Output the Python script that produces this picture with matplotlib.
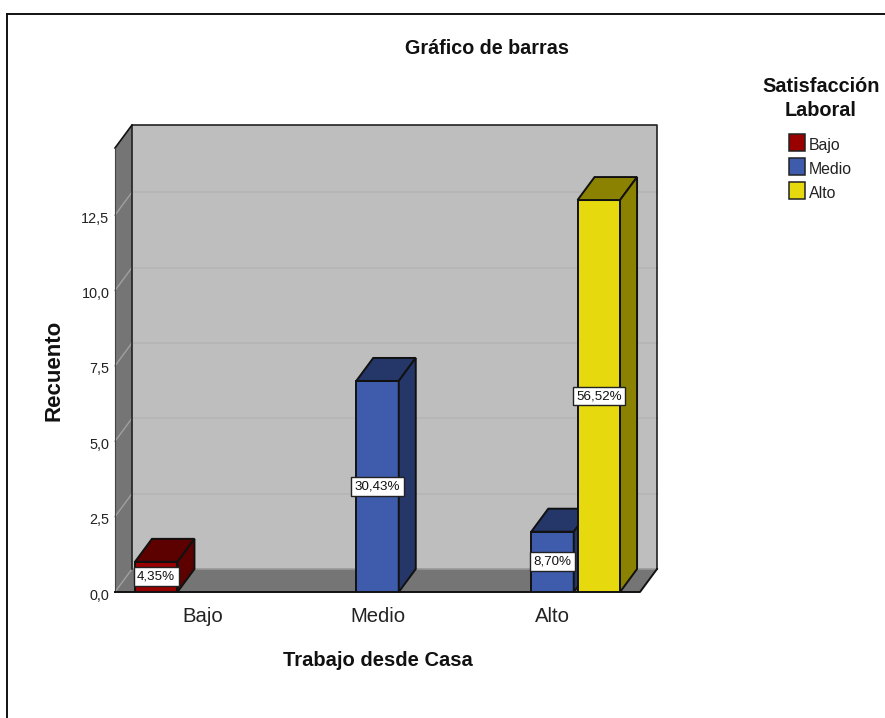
import numpy as np
import matplotlib
matplotlib.use("Agg")
import matplotlib.pyplot as plt
from matplotlib.patches import Polygon, Rectangle
from matplotlib.transforms import ScaledTranslation

plt.rcParams['font.family'] = ['Liberation Sans', 'DejaVu Sans']

# data
categories = ['Bajo', 'Medio', 'Alto']
levels = ['Bajo', 'Medio', 'Alto']
bajoCounts = [1, 0, 0]
medioCounts = [0, 7, 2]
altoCounts = [0, 0, 13]
bajoLabels = ['4,35%', '', '']
medioLabels = ['', '30,43%', '8,70%']
altoLabels = ['', '', '56,52%']
yTicks = [0, 2.5, 5, 7.5, 10, 12.5]
yTickLabels = ['0,0', '2,5', '5,0', '7,5', '10,0', '12,5']

frontColors = ['#990000', '#3E5CAB', '#E6D90E']
darkColors = ['#5C0000', '#253769', '#8A8200']

W, H = 885, 718
# front plane of the 3d box, in pixels
left, right, bottom, top = 115, 640, 592, 148
yMax = (bottom - top) / 30.15
xPerPx = 3.0 / (right - left)
yPerPx = yMax / (bottom - top)
depthX = 17 * xPerPx
depthY = 23 * yPerPx
wallGrey = '#BEBEBE'
floorGrey = '#757575'
gridGrey = '#B5B5B5'

def figX(px):
    return px / W

def figY(py):
    return 1 - py / H

def addPoly(ax, pts, face, edge='none', lw=0, z=1):
    ax.add_patch(Polygon(pts, closed=True, facecolor=face, edgecolor=edge, linewidth=lw, zorder=z, clip_on=False))

def drawBar(ax, x, width, value, color, dark, z):
    ax.bar(x, value, width=width, color=color, edgecolor='#111111', linewidth=1.4, zorder=z)
    x0, x1 = x - width / 2, x + width / 2
    addPoly(ax, [(x0, value), (x1, value), (x1 + depthX, value + depthY), (x0 + depthX, value + depthY)], dark, '#111111', 1.4, z)
    addPoly(ax, [(x1, 0), (x1 + depthX, depthY), (x1 + depthX, value + depthY), (x1, value)], dark, '#111111', 1.4, z)

fig = plt.figure(figsize=(W / 100, H / 100), dpi=100)
ax = fig.add_axes([figX(left), figY(bottom), (right - left) / W, (bottom - top) / H])
ax.set_xlim(-0.5, 2.5)
ax.set_ylim(0, yMax)
for s in ax.spines.values():
    s.set_visible(False)
ax.patch.set_visible(False)

# walls and floor
xa, xb = -0.5, 2.5
addPoly(ax, [(xa + depthX, depthY), (xb + depthX, depthY), (xb + depthX, yMax + depthY), (xa + depthX, yMax + depthY)], wallGrey, 'none', 0, 1)
addPoly(ax, [(xa, 0), (xb, 0), (xb + depthX, depthY), (xa + depthX, depthY)], floorGrey, 'none', 0, 1.1)
addPoly(ax, [(xa, 0), (xa + depthX, depthY), (xa + depthX, yMax + depthY), (xa, yMax)], floorGrey, 'none', 0, 1.1)

# gridlines on the back and side wall
for t in yTicks:
    ax.plot([xa, xa + depthX], [t, t + depthY], color='#A0A0A0', lw=1.0, zorder=1.2, clip_on=False)
    ax.plot([xa + depthX, xb + depthX], [t + depthY, t + depthY], color=gridGrey if t > 0 else '#999999',
            lw=1.2, zorder=1.2, clip_on=False)

# outline of the box goes over the gridlines
ax.plot([xa + depthX, xa + depthX, xb + depthX, xb + depthX], [depthY, yMax + depthY, yMax + depthY, depthY],
        color='#222222', lw=1.2, zorder=1.4, clip_on=False)
ax.plot([xa, xa + depthX], [yMax, yMax + depthY], color='#111111', lw=1.2, zorder=1.4, clip_on=False)
ax.plot([xa, xa], [0, yMax], color='#444444', lw=0.8, zorder=1.4, clip_on=False)
ax.plot([xa, xb, xb + depthX], [0, 0, depthY], color='#111111', lw=1.4, zorder=1.4, clip_on=False)

# bars, left to right so nearer ones cover the side faces
pos = np.arange(len(categories))
barW = 42.5 * xPerPx
step = 46.3 * xPerPx
seriesValues = [bajoCounts, medioCounts, altoCounts]
seriesLabels = [bajoLabels, medioLabels, altoLabels]
for c in pos:
    for s in range(3):
        if seriesValues[s][c] > 0:
            xc = c + (s - 1) * step
            drawBar(ax, xc, barW, seriesValues[s][c], frontColors[s], darkColors[s], 3 + c + s * 0.1)
            ax.text(xc, seriesValues[s][c] / 2, seriesLabels[s][c], ha='center', va='center', fontsize=9.6, color='#111111', zorder=10,
                    bbox=dict(boxstyle='square,pad=0.26', facecolor='white', edgecolor='#222222', linewidth=1.0))

ax.set_xticks(pos)
ax.set_xticklabels(categories, fontsize=14.6, color='#222222')
ax.set_yticks(yTicks)
ax.set_yticklabels(yTickLabels, fontsize=10.4, color='#222222')
ax.tick_params(axis='x', length=0, pad=11)
ax.tick_params(axis='y', length=0, pad=4)
# y tick labels sit a little under their value in the original
shift = ScaledTranslation(0, -2 / 100, fig.dpi_scale_trans)
for lab in ax.get_yticklabels():
    lab.set_transform(lab.get_transform() + shift)

# titles
fig.text(figX(486.5), figY(49), 'Gráfico de barras', ha='center', va='center', fontsize=14.2, fontweight='bold', color='#111111')
fig.text(figX(377.5), figY(661), 'Trabajo desde Casa', ha='center', va='center', fontsize=14.5, fontweight='bold', color='#111111')
fig.text(figX(54), figY(370), 'Recuento', ha='center', va='center', rotation=90, fontsize=16, fontweight='bold', color='#111111')

# legend
fig.text(figX(821), figY(87), 'Satisfacción', ha='center', va='center', fontsize=14.3, fontweight='bold', color='#111111')
fig.text(figX(821), figY(110), 'Laboral', ha='center', va='center', fontsize=14.3, fontweight='bold', color='#111111')
legendY = [142, 166, 190]
for lab, col, ly in zip(levels, frontColors, legendY):
    fig.add_artist(Rectangle((figX(789), figY(ly + 8.5)), 16 / W, 17 / H, facecolor=col, edgecolor='#222222', linewidth=1.1, transform=fig.transFigure))
    fig.text(figX(809), figY(ly + 3.5), lab, ha='left', va='center', fontsize=11.4, color='#222222')

# image frame
fig.add_artist(plt.Line2D([figX(7), figX(7)], [figY(14), figY(718)], color='#111111', lw=1.4))
fig.add_artist(plt.Line2D([figX(7), figX(885)], [figY(14), figY(14)], color='#111111', lw=1.4))

fig.savefig('out.png', dpi=100)
